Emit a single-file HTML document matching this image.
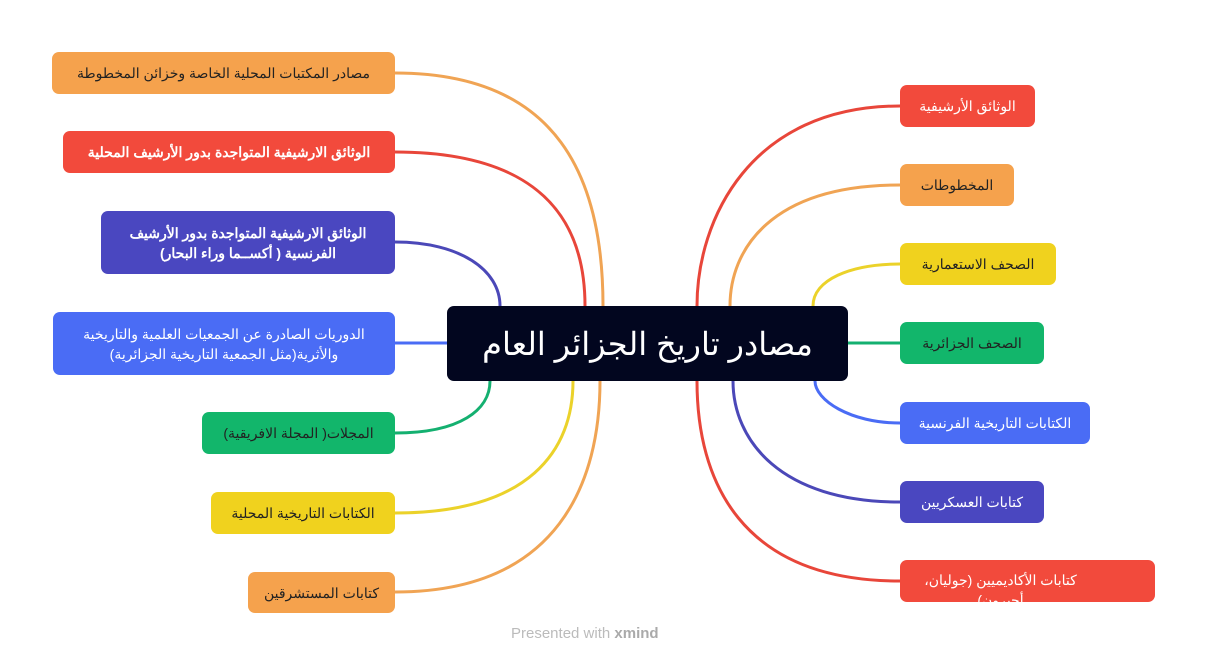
<!DOCTYPE html>
<html><head><meta charset="utf-8"><style>
body{margin:0;width:1207px;height:666px;background:#fff;position:relative;overflow:hidden;font-family:"Liberation Sans","Noto Sans CJK SC",sans-serif}
.b{position:absolute;border-radius:7px;display:flex;align-items:center;justify-content:center;text-align:center;direction:rtl;font-size:14px;line-height:20px;box-sizing:border-box;padding:0 14px}
.w{color:#fff;font-weight:bold}
.d{color:#222}
</style></head><body>
<svg width="1207" height="666" style="position:absolute;left:0;top:0" fill="none" stroke-width="3">
<path d="M395 73 C560 73 603 180 603 306" stroke="#F0A454"/>
<path d="M395 152 C540 152 585 220 585 306" stroke="#E8463A"/>
<path d="M395 242 C460 242 500 270 500 306" stroke="#4B48B8"/>
<path d="M395 343 L447 343" stroke="#4A6CF5"/>
<path d="M395 433 C460 433 490 410 490 381" stroke="#14B070"/>
<path d="M395 513 C530 513 573 450 573 381" stroke="#EBD22A"/>
<path d="M395 592 C560 592 600 480 600 381" stroke="#F0A454"/>
<path d="M900 106 C750 106 697 220 697 306" stroke="#E8463A"/>
<path d="M900 185 C770 185 730 250 730 306" stroke="#F0A454"/>
<path d="M900 264 C850 264 813 280 813 306" stroke="#EBD22A"/>
<path d="M848 343 L900 343" stroke="#14B070"/>
<path d="M900 423 C850 423 815 400 815 381" stroke="#4A6CF5"/>
<path d="M900 502 C780 502 733 440 733 381" stroke="#4B48B8"/>
<path d="M900 581 C740 581 697 480 697 381" stroke="#E8463A"/>
</svg>
<div class="b d" style="left:52px;top:52px;width:343px;height:42px;background:#F5A24D">مصادر المكتبات المحلية الخاصة وخزائن المخطوطة</div>
<div class="b w" style="left:63px;top:131px;width:332px;height:42px;background:#F24A3C">الوثائق الارشيفية المتواجدة بدور الأرشيف المحلية</div>
<div class="b w" style="left:101px;top:211px;width:294px;height:63px;background:#4A47C0">الوثائق الارشيفية المتواجدة بدور الأرشيف الفرنسية ( أكســما وراء البحار)</div>
<div class="b w" style="left:53px;top:312px;width:342px;height:63px;background:#4A6CF5;font-weight:normal">الدوريات الصادرة عن الجمعيات العلمية والتاريخية والأثرية(مثل الجمعية التاريخية الجزائرية)</div>
<div class="b d" style="left:202px;top:412px;width:193px;height:42px;background:#12B66B">المجلات( المجلة الافريقية)</div>
<div class="b d" style="left:211px;top:492px;width:184px;height:42px;background:#F0D21E">الكتابات التاريخية المحلية</div>
<div class="b d" style="left:248px;top:572px;width:147px;height:41px;background:#F5A24D">كتابات المستشرقين</div>
<div class="b" style="left:447px;top:306px;width:401px;height:75px;background:#02061F;color:#fff;font-size:32px;line-height:40px">مصادر تاريخ الجزائر العام</div>
<div class="b w" style="left:900px;top:85px;width:135px;height:42px;background:#F24A3C;font-weight:normal">الوثائق الأرشيفية</div>
<div class="b d" style="left:900px;top:164px;width:114px;height:42px;background:#F5A24D">المخطوطات</div>
<div class="b d" style="left:900px;top:243px;width:156px;height:42px;background:#F0D21E">الصحف الاستعمارية</div>
<div class="b d" style="left:900px;top:322px;width:144px;height:42px;background:#12B66B">الصحف الجزائرية</div>
<div class="b w" style="left:900px;top:402px;width:190px;height:42px;background:#4A6CF5;font-weight:normal">الكتابات التاريخية الفرنسية</div>
<div class="b w" style="left:900px;top:481px;width:144px;height:42px;background:#4A47C0;font-weight:normal">كتابات العسكريين</div>
<div class="b w" style="left:900px;top:560px;width:255px;height:42px;background:#F24A3C;font-weight:normal;overflow:hidden;align-items:flex-start;padding-top:10px;justify-content:flex-start;padding-right:68px">كتابات الأكاديميين (جوليان، أجيرون)</div>
<div style="position:absolute;left:511px;top:625px;font-size:15px;color:#bbb">Presented with <b style="color:#aaa">xmind</b></div>
</body></html>
